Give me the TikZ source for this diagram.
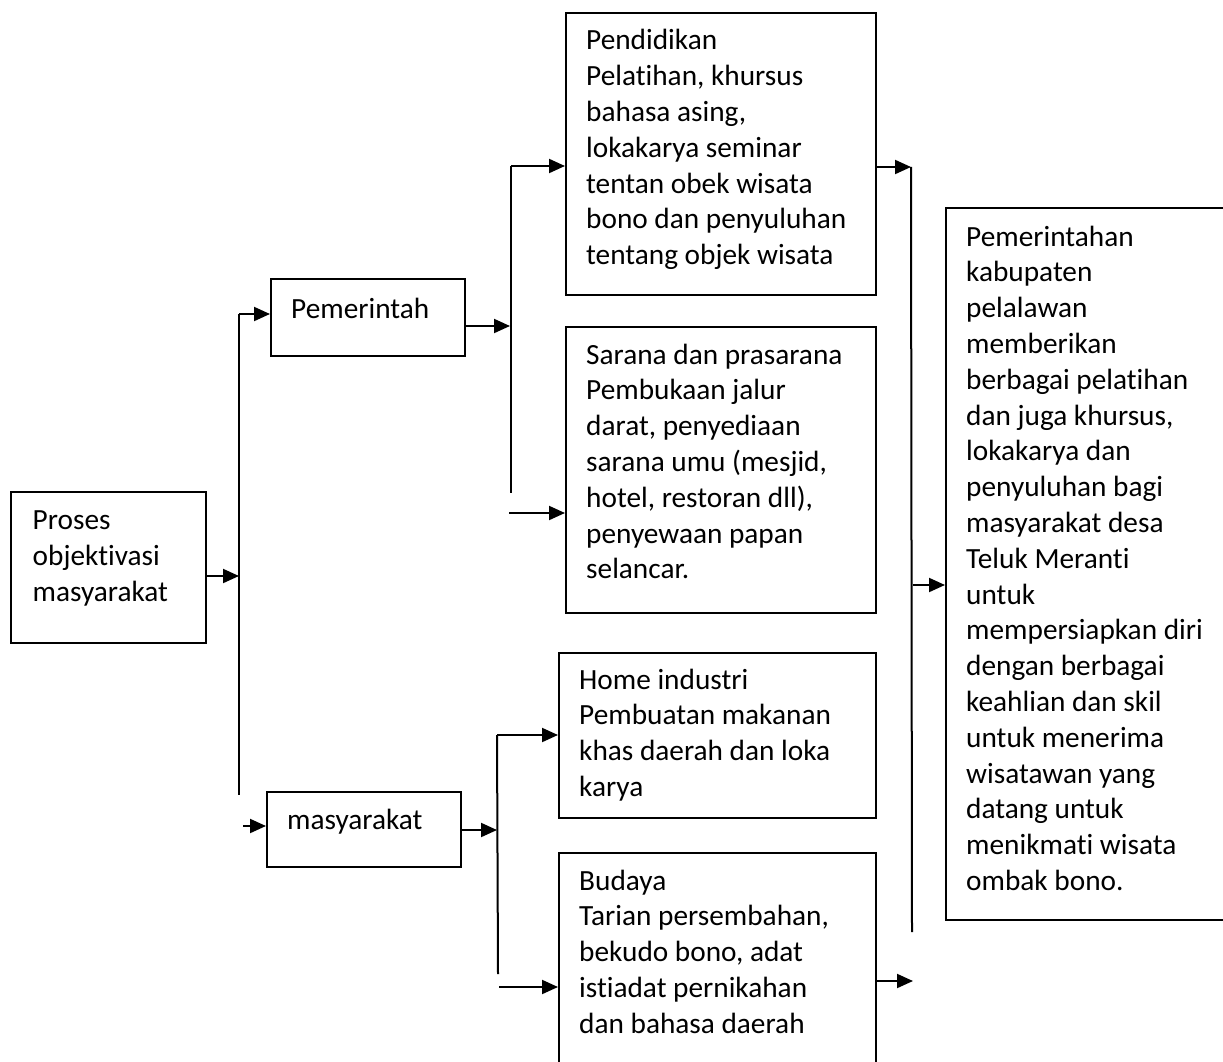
\documentclass[tikz,border=0pt]{standalone}
\usepackage{fontspec}
\setmainfont[Ligatures=NoCommon]{Carlito}
\usetikzlibrary{arrows.meta}
\newcommand{\tblock}[1]{\begin{tabular}[t]{@{}l@{}}#1\end{tabular}}
\begin{document}
\begin{tikzpicture}[x=1pt,y=-1pt,
  box/.style={draw, line width=2.2pt, anchor=north west, inner sep=0pt},
  txt/.style={anchor=base west, inner sep=0pt, font=\fontsize{29.3}{35.8}\selectfont},
  conn/.style={line width=2pt},
  arr/.style={conn, -{Triangle[length=16pt,width=14pt]}}]
\path[use as bounding box] (0,0) rectangle (1223,1062);
\clip (0,0) rectangle (1223,1062);

% boxes
\node[box, minimum width=195pt, minimum height=151pt] (proses) at (10,491) {};
\node[box, minimum width=194pt, minimum height=77pt] (pem) at (270,278) {};
\node[box, minimum width=194pt, minimum height=75pt] (masy) at (266,791) {};
\node[box, minimum width=310pt, minimum height=282pt] (pend) at (565,12) {};
\node[box, minimum width=310pt, minimum height=286pt] (sarana) at (565,326) {};
\node[box, minimum width=317pt, minimum height=165pt] (home) at (558,652) {};
\node[box, minimum width=317pt, minimum height=240pt] (budaya) at (558,852) {};
\node[box, minimum width=300pt, minimum height=712pt] (big) at (945,207) {};

% texts
\node[txt] (tproses) at (32.5,529.5) {\tblock{Proses\\objektivasi\\masyarakat}};
\node[txt] (tpem) at (291,318) {\tblock{Pemerintah}};
\node[txt] (tmasy) at (287,829) {\tblock{masyarakat}};
\node[txt] (tpend) at (586,50) {\tblock{Pendidikan\\Pelatihan, khursus\\bahasa asing,\\lokakarya seminar\\tentan obek wisata\\bono dan penyuluhan\\tentang objek wisata}};
\node[txt] (tsarana) at (586,364) {\tblock{Sarana dan prasarana\\Pembukaan jalur\\darat, penyediaan\\sarana umu (mesjid,\\hotel, restoran dll),\\penyewaan papan\\selancar.}};
\node[txt] (thome) at (579,689) {\tblock{Home industri\\Pembuatan makanan\\khas daerah dan loka\\karya}};
\node[txt] (tbudaya) at (579,890) {\tblock{Budaya\\Tarian persembahan,\\bekudo bono, adat\\istiadat pernikahan\\dan bahasa daerah}};
\node[txt] (tbig) at (966,246) {\tblock{Pemerintahan\\kabupaten\\pelalawan\\memberikan\\berbagai pelatihan\\dan juga khursus,\\lokakarya dan\\penyuluhan bagi\\masyarakat desa\\Teluk Meranti\\untuk\\mempersiapkan diri\\dengan berbagai\\keahlian dan skil\\untuk menerima\\wisatawan yang\\datang untuk\\menikmati wisata\\ombak bono.}};

% junction coordinates
\coordinate (j1) at (239,576);
\coordinate (vLtop) at (239,314);
\coordinate (vLbot) at (239,795);
\coordinate (mstart) at (243,826);
\coordinate (j2) at (510,326);
\coordinate (vPtop) at (511,166);
\coordinate (vPbot) at (511,493);
\coordinate (sstart) at (509,513);
\coordinate (j3) at (497,830);
\coordinate (vMtop) at (497,735);
\coordinate (vMbot) at (498,974);
\coordinate (bstart) at (499,987);
\coordinate (j4) at (911,167);
\coordinate (vRbot) at (912,932);
\coordinate (rstart) at (913,585);
\coordinate (j5) at (913,981);

% connectors, left
\draw[arr] (proses.east |- j1) -- (j1);
\draw[conn] (vLtop) -- (vLbot);
\draw[arr] (vLtop) -- (pem.west |- vLtop);
\draw[arr] (mstart) -- (masy.west |- mstart);
% Pemerintah branch
\draw[arr] (pem.east |- j2) -- (j2);
\draw[conn] (vPtop) -- (vPbot);
\draw[arr] (vPtop) -- (pend.west |- vPtop);
\draw[arr] (sstart) -- (sarana.west |- sstart);
% masyarakat branch
\draw[arr] (masy.east |- j3) -- (j3);
\draw[conn] (vMtop) -- (vMbot);
\draw[arr] (vMtop) -- (home.west |- vMtop);
\draw[arr] (bstart) -- (budaya.west |- bstart);
% right side
\draw[arr] (pend.east |- j4) -- (j4);
\draw[conn] (j4) -- (vRbot);
\draw[arr] (rstart) -- (big.west |- rstart);
\draw[arr] (budaya.east |- j5) -- (j5);
\end{tikzpicture}
\end{document}
